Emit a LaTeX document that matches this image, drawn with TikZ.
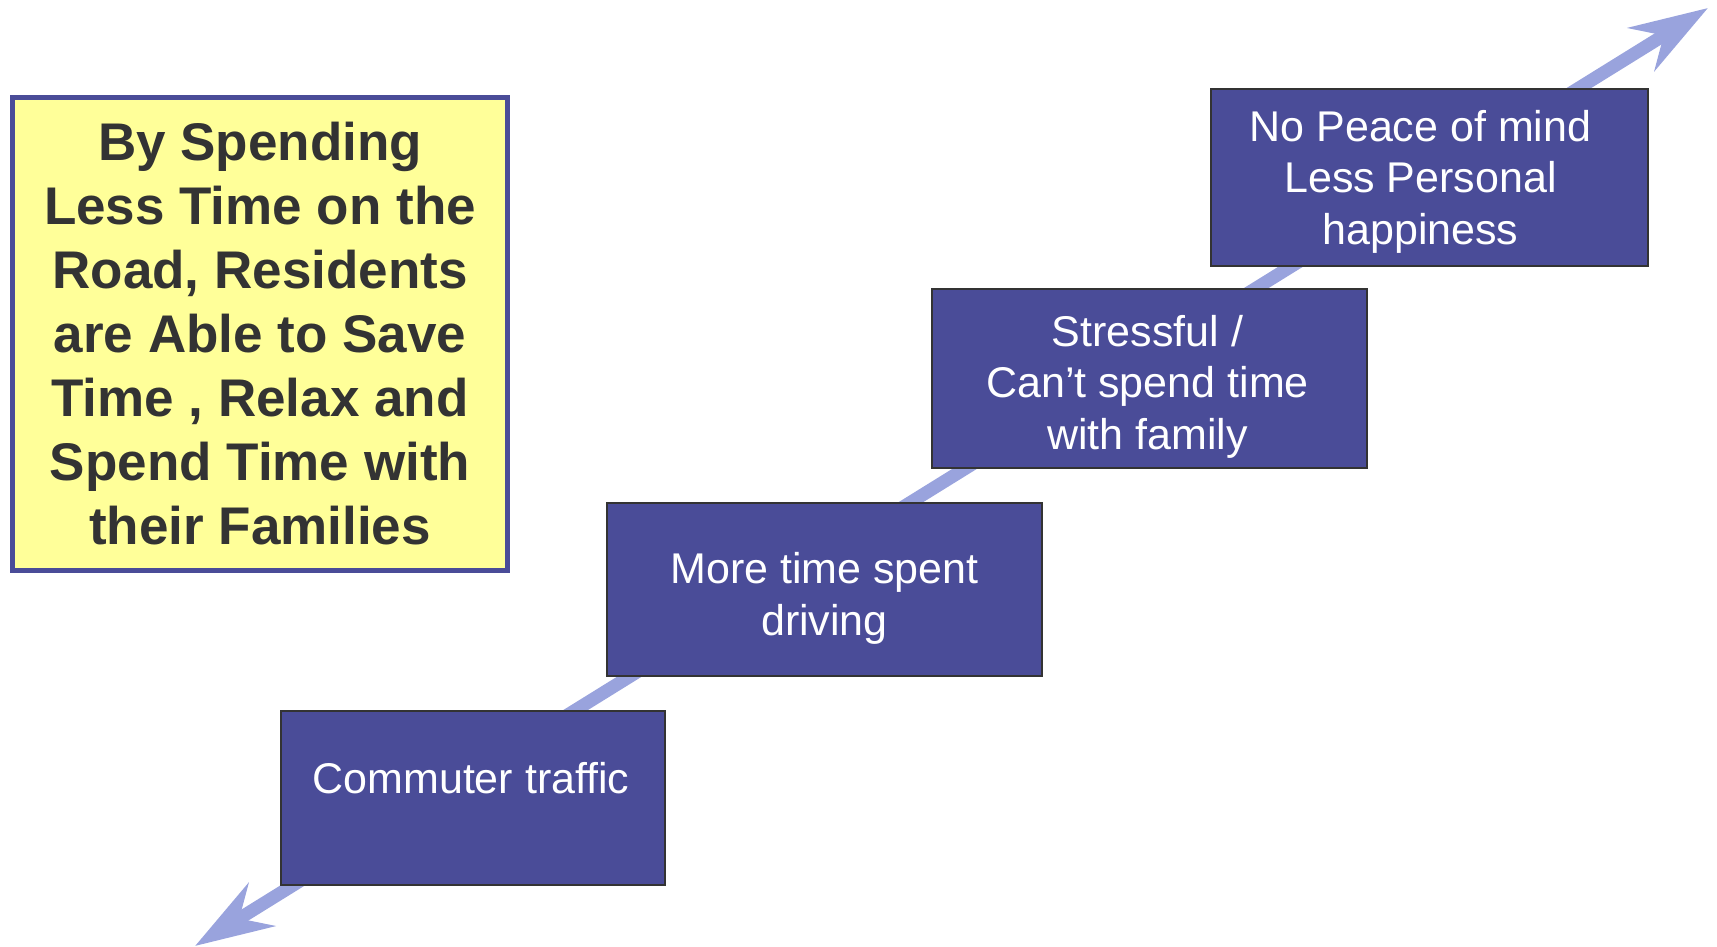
\documentclass[tikz,border=0pt]{standalone}
\usepackage{fontspec}
\setmainfont{Liberation Sans}
\usepackage{tikz}
\usepackage{xcolor}
\usetikzlibrary{arrows.meta}
\definecolor{boxcolor}{RGB}{74, 76, 152}
\definecolor{arrowcolor}{RGB}{153, 163, 221}
\definecolor{notecolor}{RGB}{255, 255, 153}
\definecolor{darktext}{RGB}{51, 51, 51}

\begin{document}
\begin{tikzpicture}[x=1pt, y=1pt,
    stepbox/.style={draw=darktext, line width=2pt, fill=boxcolor, inner sep=0pt},
    steptext/.style={text=white, align=center, inner sep=0pt,
        font=\fontsize{43}{51.5}\selectfont},
    notebox/.style={draw=boxcolor, line width=5pt, fill=notecolor, text=darktext,
        align=center, inner sep=0pt, font=\bfseries\fontsize{53}{64}\selectfont},
    bigtip/.tip={Stealth[length=78pt, width=50pt, inset=26pt]}]
\useasboundingbox (0,0) rectangle (1717,947);
% long arrow behind the steps
\coordinate (low) at (195,1);
\coordinate (high) at (1708,939);
\draw[arrowcolor, line width=13pt, bigtip-bigtip] (low) -- (high);
\node[notebox, minimum width=495, minimum height=473] (note) at (260,613)
    {By Spending\\ Less Time on the\\ Road, Residents\\ are Able to Save\\
     Time , Relax and\\ Spend Time with\\ their Families};
% the four steps
\node[stepbox, minimum width=384, minimum height=174] (traffic) at (473,149) {};
\node[stepbox, minimum width=435, minimum height=173] (driving) at (824.5,357.5) {};
\node[stepbox, minimum width=435, minimum height=179] (stress) at (1149.5,568.5) {};
\node[stepbox, minimum width=437, minimum height=177] (peace) at (1429.5,769.5) {};
\node[steptext] (traffic-text) at ([xshift=-2pt, yshift=-6pt]traffic.center)
    {Commuter traffic\\ \mbox{}};
\node[steptext] (driving-text) at ([yshift=-9pt]driving.center)
    {More time spent\\ driving};
\node[steptext] (stress-text) at ([xshift=-2pt, yshift=-8pt]stress.center)
    {Stressful /\\ Can’t spend time\\ with family};
\node[steptext] (peace-text) at ([xshift=-9pt, yshift=-4pt]peace.center)
    {No Peace of mind\\ Less Personal\\ happiness};
\end{tikzpicture}
\end{document}
